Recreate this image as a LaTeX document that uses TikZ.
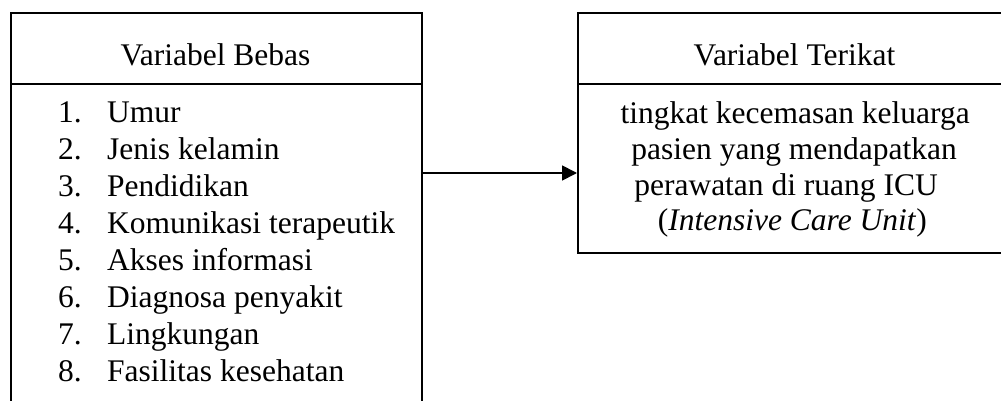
\documentclass[tikz,border=0pt]{standalone}
\usepackage{fontspec}
\setmainfont{Liberation Serif}
\usetikzlibrary{arrows.meta}
\begin{document}
\begin{tikzpicture}[x=1pt,y=-1pt,
  boxline/.style={draw=black, line width=1.7pt},
  txt/.style={inner sep=0pt, font=\fontsize{31.5}{36}\selectfont},
  arr/.style={line width=1.8pt, -{Triangle[length=15pt,width=15pt]}}]
\useasboundingbox (0,0) rectangle (1001,401);
\clip (0,0) rectangle (1001,401);
% boxes
\node[boxline, inner sep=0pt, anchor=north west, minimum width=411pt, minimum height=71pt] (lh) at (10,12) {};
\node[boxline, inner sep=0pt, anchor=north west, minimum width=411pt, minimum height=340pt] (lb) at (10,83) {};
\node[boxline, inner sep=0pt, anchor=north west, minimum width=436pt, minimum height=71pt] (rh) at (577,12) {};
\node[boxline, inner sep=0pt, anchor=north west, minimum width=436pt, minimum height=169pt] (rb) at (577,83) {};
% headers
\node[txt, anchor=base] (lht) at (215.5,66) {Variabel Bebas};
\node[txt, anchor=base] (rht) at (794.5,66) {Variabel Terikat};
% list
\foreach \n/\t [count=\i from 0] in {1/Umur,2/Jenis kelamin,3/Pendidikan,4/Komunikasi terapeutik,5/Akses informasi,6/Diagnosa penyakit,7/Lingkungan,8/Fasilitas kesehatan}{
  \node[txt, anchor=base west] (num\n) at (58,123+36.9*\i) {\n.};
  \node[txt, anchor=base west] (item\n) at (107,123+36.9*\i) {\t};
}
% right body
\node[txt, anchor=base east] (r1) at (970,124) {tingkat kecemasan keluarga};
\node[txt, anchor=base east] (r2) at (957,159.5) {pasien yang mendapatkan};
\node[txt, anchor=base east] (r3) at (938,195) {perawatan di ruang ICU};
\node[txt, anchor=base east] (r4) at (927,230) {(\textit{Intensive Care Unit})};
% arrow
\coordinate (ay) at (0,173);
\draw[arr] (lb.east |- ay) -- (rb.west |- ay);
\end{tikzpicture}
\end{document}
